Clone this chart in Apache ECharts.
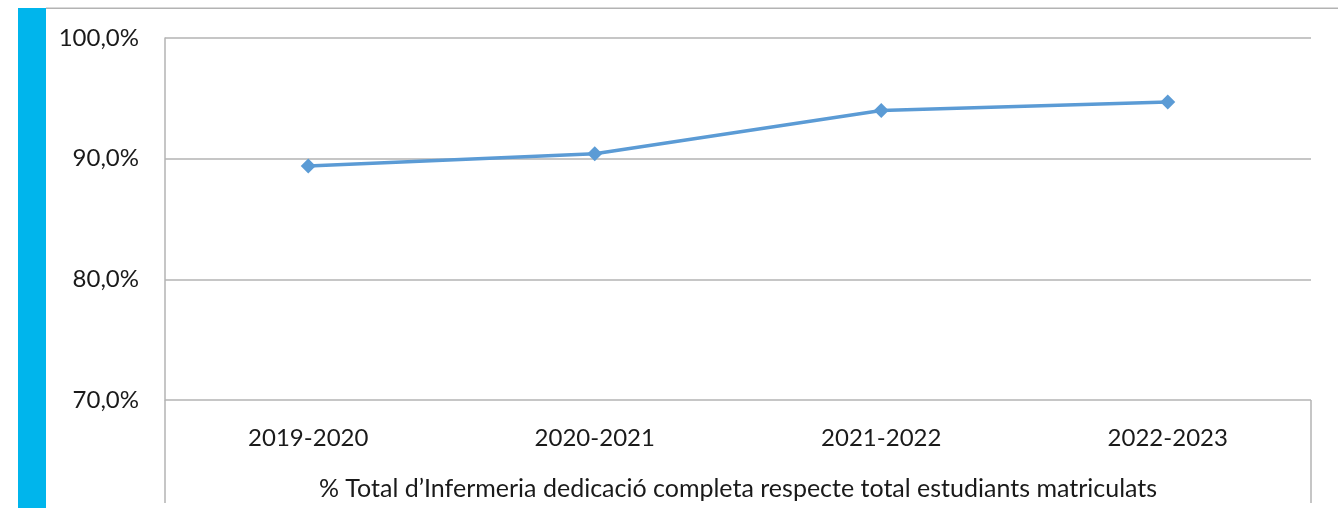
<!DOCTYPE html>
<html>
<head>
<meta charset="utf-8">
<script src="https://cdn.jsdelivr.net/npm/echarts@6/dist/echarts.min.js"></script>
<style>
  html, body { margin: 0; padding: 0; background: #fff; }
  #chart { width: 1338px; height: 508px; }
</style>
</head>
<body>
<div id="chart"></div>
<script>
// dades llegides del gràfic
const cursos = ['2019-2020', '2020-2021', '2021-2022', '2022-2023'];
const percentatge = [89.4, 90.4, 94.0, 94.7];
const titolEix = '% Total d\u2019Infermeria dedicació completa respecte total estudiants matriculats';

const FONT = 'Lato';
const grisos = '#b3b3b3';

let myChart = echarts.init(document.getElementById('chart'));
let option = {
    animation: false,
    grid: { left: 165, right: 27, top: 38, bottom: 108, outerBoundsMode: 'none' },
    xAxis: {
        type: 'category',
        data: cursos,
        boundaryGap: true,
        axisLine: { show: false },
        axisTick: { show: false },
        axisLabel: { margin: 26, fontSize: 24, color: '#1a1a1a', fontFamily: FONT },
        name: titolEix,
        nameLocation: 'middle',
        nameGap: 76,
        nameTextStyle: { fontSize: 25, color: '#1a1a1a', fontFamily: FONT }
    },
    yAxis: {
        type: 'value',
        min: 70,
        max: 100,
        interval: 10,
        axisLine: { show: true, lineStyle: { color: grisos, width: 1.5 } },
        axisTick: { show: false },
        splitLine: { lineStyle: { color: grisos, width: 1.5 } },
        axisLabel: {
            margin: 26, fontSize: 24, color: '#1a1a1a', fontFamily: FONT,
            formatter: v => v.toFixed(1).replace('.', ',') + '%'
        }
    },
    series: [{
        type: 'line',
        data: percentatge,
        symbol: 'diamond',
        symbolSize: 15,
        lineStyle: { color: '#5B9BD5', width: 3.5 },
        itemStyle: { color: '#5B9BD5' }
    }],
    graphic: [
        // franja blava de l'esquerra
        { type: 'rect', shape: { x: 18, y: 8, width: 28, height: 500 }, style: { fill: '#00B5EC' } },
        // línia superior
        { type: 'rect', shape: { x: 46, y: 7.5, width: 1292, height: 1.5 }, style: { fill: grisos } },
        // prolongacions verticals sota l'eix
        { type: 'rect', shape: { x: 164.25, y: 400, width: 1.5, height: 103 }, style: { fill: grisos } },
        { type: 'rect', shape: { x: 1310.25, y: 400, width: 1.5, height: 103 }, style: { fill: grisos } }
    ]
};
myChart.setOption(option);
</script>
</body>
</html>
